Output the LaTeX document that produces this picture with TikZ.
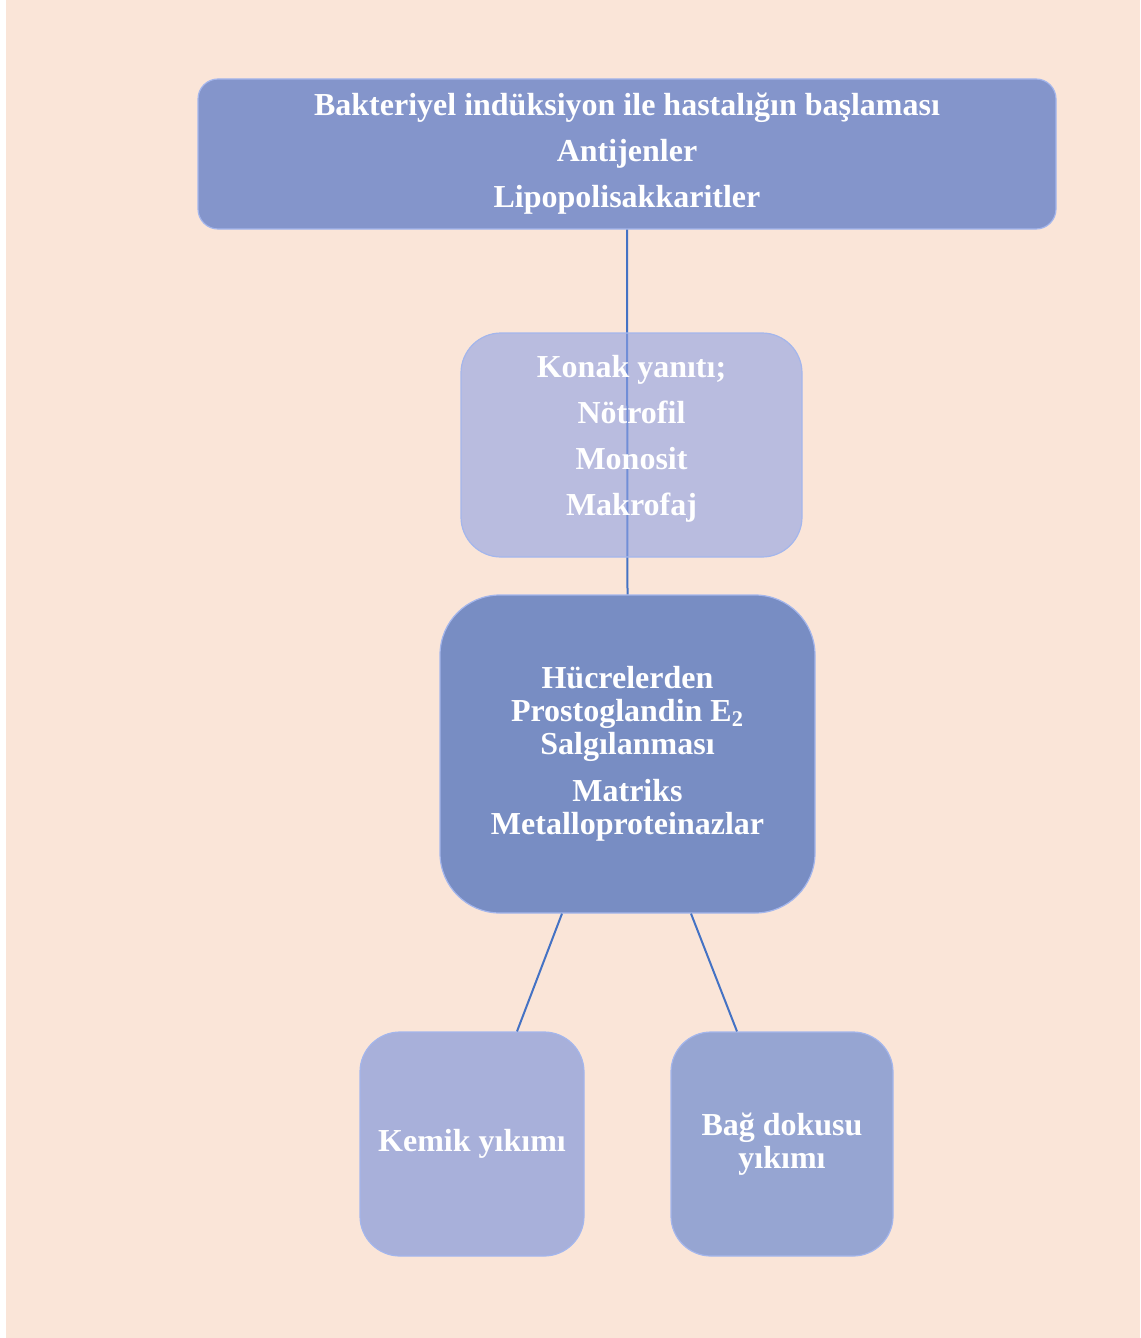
\documentclass[tikz,border=0pt]{standalone}
\usepackage{fontspec}
\setmainfont{Liberation Serif}
\usetikzlibrary{calc}
\definecolor{peach}{HTML}{FAE5D8}
\definecolor{linkblue}{HTML}{4472C4}
\definecolor{boxedge}{HTML}{A4B6EC}
\definecolor{topfill}{HTML}{8495CB}
\definecolor{hostfill}{HTML}{8FA2E5}
\definecolor{cellfill}{HTML}{788DC3}
\definecolor{bonefill}{HTML}{A8B0DA}
\definecolor{tissuefill}{HTML}{96A5D2}
\tikzset{box/.style={rounded corners=#1, draw=boxedge, line width=0.6pt,
           text=white, align=center, inner sep=0pt,
           font=\fontsize{16}{23}\selectfont\bfseries},
         box/.default=10pt,
         tight/.style={font=\fontsize{16}{16.5}\selectfont\bfseries},
         link/.style={draw=linkblue, line width=1pt}}

\begin{document}
\begin{tikzpicture}[x=0.5pt,y=-0.5pt]
\useasboundingbox (0,0) rectangle (1140,1338);
\fill[white] (0,0) rectangle (1140,1338);
\fill[peach] (6,0) rectangle (1140,1338);
% boxes
\node[box, fill=topfill, minimum width=429pt, minimum height=75pt] (onset) at (627,154)
  {Bakteriyel indüksiyon ile hastalığın başlaması\\Antijenler\\Lipopolisakkaritler};
\node[box=30pt, tight, fill=cellfill, minimum width=187.5pt, minimum height=159pt] (cells) at (627.5,754)
  {Hücrelerden\\Prostoglandin E\textsubscript{2}\\Salgılanması\\[7pt]Matriks\\Metalloproteinazlar};
\node[box=20pt, fill=bonefill, minimum width=112pt, minimum height=112pt] (bone) at (472,1144)
  {Kemik yıkımı};
\node[box=20pt, tight, fill=tissuefill, minimum width=111pt, minimum height=112pt] (tissue) at (782,1144)
  {Bağ dokusu\\yıkımı};
% links
\draw[link] (onset.south) -- (cells.north);
\draw[link] ([xshift=-32.75pt]cells.south) -- ([xshift=22.5pt]bone.north);
\draw[link] ([xshift=31.75pt]cells.south) -- ([xshift=-22.5pt]tissue.north);
% host response box lies over the line
\node[box=20pt, fill=hostfill, fill opacity=0.6, text opacity=1,
  minimum width=170.5pt, minimum height=112pt] (host) at (631.5,445)
  {\raisebox{4pt}[\height][\depth]{\begin{tabular}{@{}c@{}}Konak yanıtı;\\Nötrofil\\Monosit\\Makrofaj\end{tabular}}};
\end{tikzpicture}
\end{document}
